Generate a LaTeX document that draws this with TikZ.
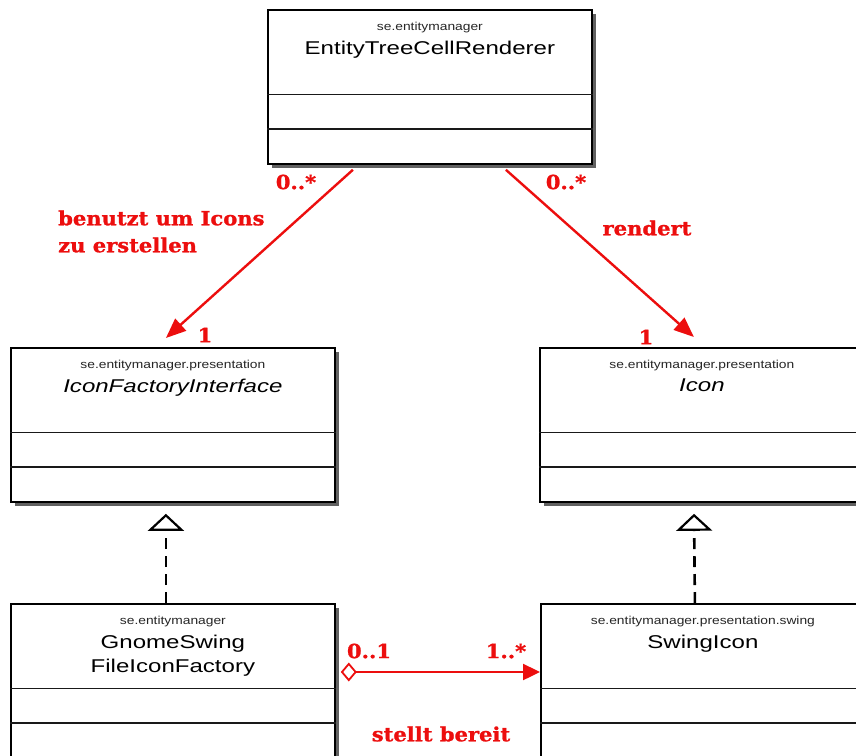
\documentclass[tikz,border=0pt]{standalone}
\usepackage{fontspec}
\usetikzlibrary{arrows.meta,shadows}
\newfontfamily\pkgfont[FakeStretch=1.2]{Liberation Sans}
\newfontfamily\clsfont[FakeStretch=1.3]{Liberation Sans}
\newfontfamily\lblfont[FakeStretch=1.08, BoldFeatures={FakeBold=1.2}]{DejaVu Serif}
\definecolor{assoc}{RGB}{236,14,14}

\tikzset{
  classbox/.style={draw=black, line width=1.8pt, fill=white,
    minimum width=324pt, minimum height=154pt, anchor=north west, inner sep=0pt,
    drop shadow={shadow xshift=4pt, shadow yshift=-4pt, fill=black!62, opacity=1}},
  compartment/.style={draw=black!90, line width=1.5pt},
  pkgname/.style={font=\pkgfont\fontsize{11.5}{13}\selectfont, text=black!85, inner sep=0pt},
  clsname/.style={font=\clsfont\fontsize{18.5}{24}\selectfont, inner sep=0pt, align=center},
  assocline/.style={draw=assoc, line width=2.4pt},
  lbl/.style={font=\lblfont\bfseries\fontsize{19.5}{27}\selectfont, text=assoc, inner sep=0pt},
  realize/.style={draw=black, line width=2.6pt, dash pattern=on 11pt off 7pt,
    -{Triangle[open, length=17pt, width=36pt, line width=2.2pt]}},
}

% class box with two empty compartments: name, x, y (top left), package, class
\newcommand{\umlclass}[5]{%
  \node[classbox] (#1) at (#2,#3) {};
  \draw[compartment] ([yshift=-85.5pt]#1.north west) -- ([yshift=-85.5pt]#1.north east);
  \draw[compartment] ([yshift=-120pt]#1.north west) -- ([yshift=-120pt]#1.north east);
  \node[pkgname] (#1-pkg) at ([yshift=-19pt]#1.north) {#4};
  \node[clsname, anchor=north] (#1-name) at ([yshift=-32pt]#1.north) {#5};
}

\begin{document}
\begin{tikzpicture}[x=1pt, y=-1pt]
  \useasboundingbox (0,0) rectangle (856,755);
  \clip (0,0) rectangle (856,755);

  \umlclass{renderer}{267}{9}{se.entitymanager}{EntityTreeCellRenderer}
  \umlclass{factory}{10}{347}{se.entitymanager.presentation}{\itshape IconFactoryInterface}
  \umlclass{icon}{539}{347}{se.entitymanager.presentation}{\itshape Icon}
  \umlclass{gnome}{10}{603}{se.entitymanager}{GnomeSwing\\FileIconFactory}
  \umlclass{swing}{540}{603}{se.entitymanager.presentation.swing}{SwingIcon}

  % associations from the renderer
  \draw[assocline, -{Triangle[length=20pt, width=16pt]}]
    ([xshift=-77pt, yshift=-5pt]renderer.south) -- ([xshift=-7pt, yshift=9pt]factory.north);
  \draw[assocline, -{Triangle[length=20pt, width=16pt]}]
    ([xshift=76pt, yshift=-5pt]renderer.south) -- ([xshift=-8pt, yshift=10pt]icon.north);

  % realizations
  \draw[realize, shorten >=11pt] ([xshift=-7pt]gnome.north) -- ([xshift=-7pt]factory.south);
  \draw[realize, shorten >=11pt] ([xshift=-8pt]swing.north) -- ([xshift=-8pt]icon.south);

  % aggregation
  \draw[assocline, {Diamond[open, length=16pt, width=19pt, line width=1.8pt]}-{Triangle[length=17pt, width=16pt]},
    shorten <=5pt]
    ([yshift=-69pt]gnome.north east) -- ([yshift=-69pt]swing.north west);

  % multiplicities and roles
  \node[lbl] (m1) at (296,182) {0..*};
  \node[lbl, anchor=west, align=left] (r1) at (58,231.5) {benutzt um Icons\\zu erstellen};
  \node[lbl] (m2) at (205,335) {1};
  \node[lbl] (m3) at (566,182) {0..*};
  \node[lbl] (r2) at (647,228) {rendert};
  \node[lbl] (m4) at (646,337) {1};
  \node[lbl] (m5) at (369,651) {0..1};
  \node[lbl] (m6) at (506,651) {1..*};
  \node[lbl] (r3) at (441,734) {stellt bereit};
\end{tikzpicture}
\end{document}
